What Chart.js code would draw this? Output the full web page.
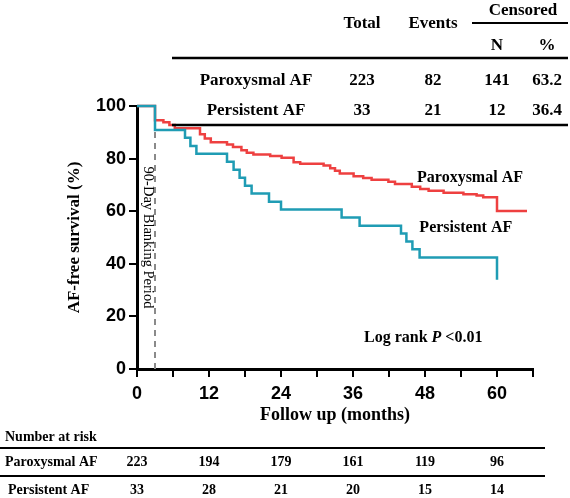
<!DOCTYPE html>
<html>
<head>
<meta charset="utf-8">
<script src="https://cdn.jsdelivr.net/npm/chart.js@4.4.1/dist/chart.umd.min.js"></script>
<style>
  html, body { margin: 0; padding: 0; background: #fff; }
  canvas { display: block; }
</style>
</head>
<body>
<canvas id="kmChart" width="570" height="498"></canvas>
<script>
// Kaplan-Meier steps (months, % AF-free)
const parMonths = [0, 3, 4.4, 5.4, 6.3, 10.5, 11.3, 12.3, 15, 16, 17.4, 18.3, 19.4, 22.2, 24.1, 26.1, 27.2, 31.1, 32.2, 33, 33.8, 36.1, 37.7, 39.1, 41.9, 43, 45.8, 47.2, 48.6, 51.1, 54.4, 56.6, 57.7, 60, 65];
const parSurv = [100, 94.6, 93.8, 92.8, 91.5, 89.3, 87.6, 86.2, 85.4, 84.4, 83.2, 82.2, 81.6, 81.0, 80.3, 78.6, 78.0, 77.4, 76.3, 75.4, 74.3, 73.3, 72.6, 72.0, 71.2, 70.3, 69.3, 68.4, 67.8, 67.0, 66.4, 66.0, 65.3, 60.1, 60.1];

const perMonths = [0, 3, 8, 8.9, 9.9, 15, 16.1, 17.1, 18, 19.1, 22, 24, 34.1, 37.1, 44, 44.9, 45.9, 47.1, 60];
const perSurv = [100, 90.9, 87.9, 84.8, 81.8, 78.8, 75.8, 72.7, 69.7, 66.7, 63.6, 60.6, 57.6, 54.5, 51.5, 48.5, 45.5, 42.4, 33.9];

const blankingMonths = [3, 3];
const blankingSurv = [0, 91];

// summary table
const groups = ['Paroxysmal AF', 'Persistent AF'];
const totals = [223, 33];
const events = [82, 21];
const censoredN = [141, 12];
const censoredPct = ['63.2', '36.4'];

// number at risk
const riskMonths = [0, 12, 24, 36, 48, 60];
const parRisk = [223, 194, 179, 161, 119, 96];
const perRisk = [33, 28, 21, 20, 15, 14];

const RED = '#ee4040';
const TEAL = '#1f9cb4';
const SERIF = '"Liberation Serif", "Times New Roman", serif';
const SANS = '"Liberation Sans", Arial, sans-serif';

function toPoints(xs, ys) {
    return xs.map((x, i) => ({ x: x, y: ys[i] }));
}

function hline(ctx, x1, x2, y, w) {
    ctx.beginPath();
    ctx.lineWidth = w;
    ctx.strokeStyle = '#000';
    ctx.moveTo(x1, y);
    ctx.lineTo(x2, y);
    ctx.stroke();
}

const textPlugin = {
    id: 'kmText',
    afterDraw(c) {
        const ctx = c.ctx;
        const xs = c.scales.x;
        const ys = c.scales.y;
        ctx.save();
        ctx.fillStyle = '#000';
        ctx.textBaseline = 'middle';

        // top summary table
        ctx.font = 'bold 17px ' + SERIF;
        ctx.textAlign = 'center';
        ctx.fillText('Total', 362, 24);
        ctx.fillText('Events', 433, 24);
        ctx.fillText('Censored', 523, 11);
        hline(ctx, 472, 568, 23, 2);
        ctx.fillText('N', 497, 46);
        ctx.fillText('%', 547, 46);
        hline(ctx, 172, 568, 58, 2.5);
        groups.forEach((g, i) => {
            const y = 81 + i * 30;
            ctx.fillText(g, 256, y);
            ctx.fillText(String(totals[i]), 362, y);
            ctx.fillText(String(events[i]), 433, y);
            ctx.fillText(String(censoredN[i]), 497, y);
            ctx.fillText(censoredPct[i], 547, y);
        });
        hline(ctx, 172, 568, 125, 2.5);

        // curve labels
        ctx.font = 'bold 16px ' + SERIF;
        ctx.fillText('Paroxysmal AF', xs.getPixelForValue(55.5), ys.getPixelForValue(72.6));
        ctx.fillText('Persistent AF', xs.getPixelForValue(54.8), ys.getPixelForValue(53.6));

        // log rank
        const lx = xs.getPixelForValue(47.7);
        const ly = ys.getPixelForValue(11.8);
        const parts = [['bold 16px ', 'Log rank '], ['italic bold 16px ', 'P'], ['bold 16px ', ' <0.01']];
        let total = 0;
        parts.forEach(p => { ctx.font = p[0] + SERIF; total += ctx.measureText(p[1]).width; });
        let cx = lx - total / 2;
        ctx.textAlign = 'left';
        parts.forEach(p => {
            ctx.font = p[0] + SERIF;
            ctx.fillText(p[1], cx, ly);
            cx += ctx.measureText(p[1]).width;
        });

        // blanking period label
        ctx.save();
        ctx.translate(xs.getPixelForValue(1.85), ys.getPixelForValue(50));
        ctx.rotate(Math.PI / 2);
        ctx.textAlign = 'center';
        ctx.font = '14.5px ' + SERIF;
        ctx.fillText('90-Day Blanking Period', 0, 0);
        ctx.restore();

        // axis titles
        ctx.save();
        ctx.translate(75, (ys.top + ys.bottom) / 2);
        ctx.rotate(-Math.PI / 2);
        ctx.textAlign = 'center';
        ctx.font = 'bold 17px ' + SERIF;
        ctx.fillText('AF-free survival (%)', 0, 0);
        ctx.restore();

        ctx.textAlign = 'center';
        ctx.font = 'bold 18px ' + SERIF;
        ctx.fillText('Follow up (months)', (xs.left + xs.right) / 2, 415);

        // number at risk
        ctx.textAlign = 'left';
        ctx.font = 'bold 14px ' + SERIF;
        ctx.fillText('Number at risk', 5, 437);
        hline(ctx, 0, 545, 448, 2);
        ctx.fillText('Paroxysmal AF', 5, 462);
        hline(ctx, 0, 545, 476, 2);
        ctx.fillText('Persistent AF', 8, 490);
        ctx.textAlign = 'center';
        riskMonths.forEach((m, i) => {
            const px = xs.getPixelForValue(m);
            ctx.fillText(String(parRisk[i]), px, 462);
            ctx.fillText(String(perRisk[i]), px, 490);
        });

        ctx.restore();
    }
};

const ctx = document.getElementById('kmChart').getContext('2d');
const chart = new Chart(ctx, {
    type: 'line',
    data: {
        datasets: [{
            label: 'Blanking',
            data: toPoints(blankingMonths, blankingSurv),
            borderColor: '#8a8a8a',
            borderWidth: 2,
            borderDash: [6, 5],
            pointRadius: 0,
            order: 3
        }, {
            label: 'Paroxysmal AF',
            data: toPoints(parMonths, parSurv),
            borderColor: RED,
            borderWidth: 2.5,
            stepped: 'before',
            pointRadius: 0,
            order: 2
        }, {
            label: 'Persistent AF',
            data: toPoints(perMonths, perSurv),
            borderColor: TEAL,
            borderWidth: 2.5,
            stepped: 'before',
            pointRadius: 0,
            order: 1
        }]
    },
    options: {
        responsive: false,
        animation: false,
        devicePixelRatio: 1,
        clip: false,
        layout: { padding: { top: 106, right: 37, left: 0, bottom: 0 } },
        scales: {
            x: {
                type: 'linear',
                min: 0,
                max: 66,
                afterFit: s => { s.height = 129; },
                ticks: {
                    stepSize: 6,
                    autoSkip: false,
                    maxRotation: 0,
                    padding: 6,
                    color: '#000',
                    font: { family: SANS, size: 18, weight: 'bold' },
                    callback: v => (v % 12 === 0 && v <= 60 ? v : '')
                },
                grid: { drawOnChartArea: false, tickLength: 8, color: '#000', lineWidth: 2 },
                border: { color: '#000', width: 3 }
            },
            y: {
                min: 0,
                max: 100,
                afterFit: s => { s.width = 137; },
                ticks: {
                    stepSize: 20,
                    padding: 3,
                    color: '#000',
                    font: { family: SANS, size: 18, weight: 'bold' }
                },
                grid: { drawOnChartArea: false, tickLength: 8, color: '#000', lineWidth: 2 },
                border: { color: '#000', width: 3 }
            }
        },
        plugins: {
            legend: { display: false },
            tooltip: { enabled: false }
        }
    },
    plugins: [textPlugin]
});
</script>
</body>
</html>
